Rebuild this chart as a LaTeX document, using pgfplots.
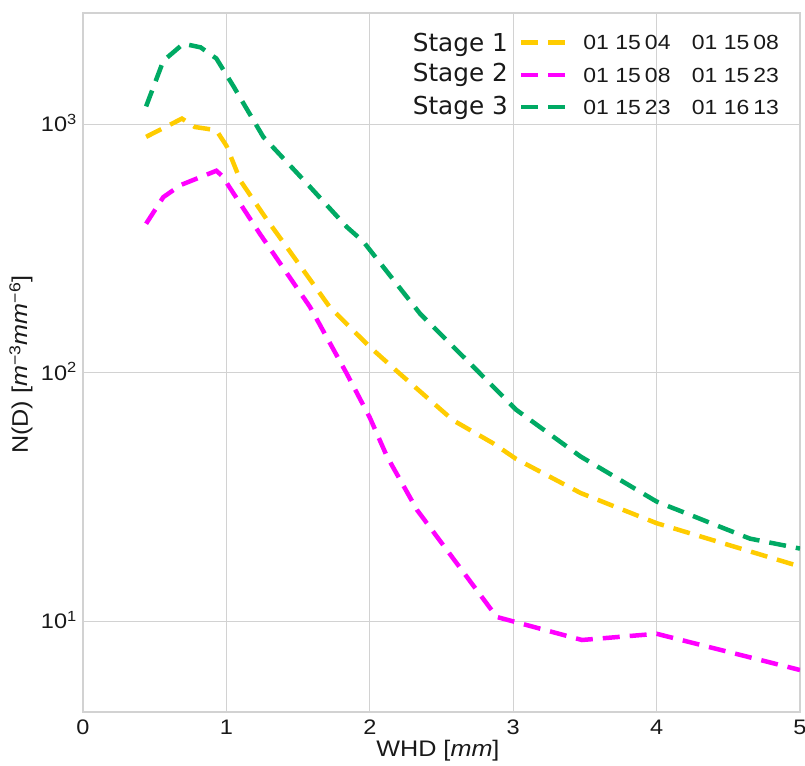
\documentclass[border=0pt]{standalone}
\usepackage{fontspec}
\setmainfont{Liberation Sans}[FakeStretch=1.12]
\newfontfamily\dejavu{DejaVu Sans}
\usepackage{pgfplots}
\pgfplotsset{compat=1.18}
\definecolor{sYel}{RGB}{255,204,0}
\definecolor{sMag}{RGB}{255,0,255}
\definecolor{sGrn}{RGB}{0,170,100}
\definecolor{gridc}{RGB}{210,210,210}
\definecolor{txt}{RGB}{25,25,25}
\newcommand{\dt}[3]{#1\hspace{6.5pt}#2\hspace{4pt}#3}
\begin{document}
\begin{tikzpicture}
\begin{axis}[name=ax, scale only axis, width=717pt, height=699pt,
  xmin=0, xmax=5, ymode=log, log basis y=10, ymin=4.31, ymax=2805,
  xtick={0,1,2,3,4,5},
  ytick={10,100,1000},
  yticklabels={10\textsuperscript{1},10\textsuperscript{2},10\textsuperscript{3}},
  grid=major, major grid style={gridc, line width=1.3pt},
  axis line style={gridc, line width=1.3pt},
  tick style={draw=none}, minor tick style={draw=none},
  /pgf/number format/assume math mode=true,
  ticklabel style={font=\fontsize{21}{24}\selectfont, text=txt},
  xticklabel style={anchor=base, inner sep=0pt, yshift=-22.5pt},
  yticklabel style={anchor=base east, inner sep=0pt, xshift=-6pt, yshift=-7.4pt},
  xlabel={WHD [\textit{mm}]},
  ylabel={N(D) [\textit{m}\textsuperscript{\char"2212 3}\textit{mm}\textsuperscript{\char"2212 6}]},
  label style={font=\fontsize{22.5}{26}\selectfont, text=txt},
  xlabel style={at={(axis description cs:0.495,-0.0548)}, anchor=center},
  ylabel style={at={(axis description cs:-0.0865,0.497)}, anchor=center},
  legend cell align=left,
  legend image code/.code={\draw[#1] (0pt,0pt) -- (44pt,0pt);},
  legend style={at={(axis description cs:0.608,0.9685)}, anchor=north west,
    draw=none, fill=none, inner sep=0pt, outer sep=0pt, row sep=17.7pt,
    font=\fontsize{20.5}{23}\selectfont, text=txt,
    nodes={inner sep=0pt, text height=14.7pt, text depth=0pt},
    /tikz/every odd column/.append style={column sep=16pt}},
  every axis plot/.append style={line width=4.5pt, dash pattern=on 17pt off 10pt},
]
\addplot[sYel] coordinates {
(0.44,890) (0.69,1054) (0.78,975) (0.86,960) (0.93,945) (1.00,820)
(1.10,590) (1.28,415) (1.42,321) (1.72,184) (2.00,127) (2.21,99)
(2.58,64.4) (2.86,52) (3.02,45) (3.47,32.8) (4.00,24.8) (5.00,16.6)};
\addlegendentry{\makebox[108.4pt][l]{\dt{01}{15}{04}}\dt{01}{15}{08}}
\addplot[sMag] coordinates {
(0.44,398) (0.56,509) (0.68,569) (0.93,650) (0.97,620) (1.234,362)
(1.583,184) (1.84,99) (2.00,66) (2.12,46) (2.33,28) (2.885,10.4)
(3.48,8.4) (4.00,8.9) (5.00,6.36)};
\addlegendentry{\makebox[108.4pt][l]{\dt{01}{15}{08}}\dt{01}{15}{23}}
\addplot[sGrn] coordinates {
(0.44,1180) (0.56,1800) (0.70,2110) (0.82,2040) (0.93,1840) (1.05,1420)
(1.12,1211) (1.257,890) (1.583,560) (1.84,386) (1.955,337) (2.35,173)
(2.72,106) (3.02,71) (3.47,46) (4.00,30.3) (4.65,21.5) (5.00,19.6)};
\addlegendentry{\makebox[108.4pt][l]{\dt{01}{15}{23}}\dt{01}{16}{13}}
\node[anchor=base east, inner sep=0pt, text=txt, font=\dejavu\fontsize{24.7}{28}\selectfont] at (rel axis cs:0.5927,0.9456) {Stage 1};
\node[anchor=base east, inner sep=0pt, text=txt, font=\dejavu\fontsize{24.7}{28}\selectfont] at (rel axis cs:0.5927,0.9013) {Stage 2};
\node[anchor=base east, inner sep=0pt, text=txt, font=\dejavu\fontsize{24.7}{28}\selectfont] at (rel axis cs:0.5927,0.8551) {Stage 3};
\end{axis}
\pgfresetboundingbox
\path ([shift={(-83pt,-53.3pt)}]ax.south west) rectangle ([shift={(5pt,13pt)}]ax.north east);
\end{tikzpicture}
\end{document}
